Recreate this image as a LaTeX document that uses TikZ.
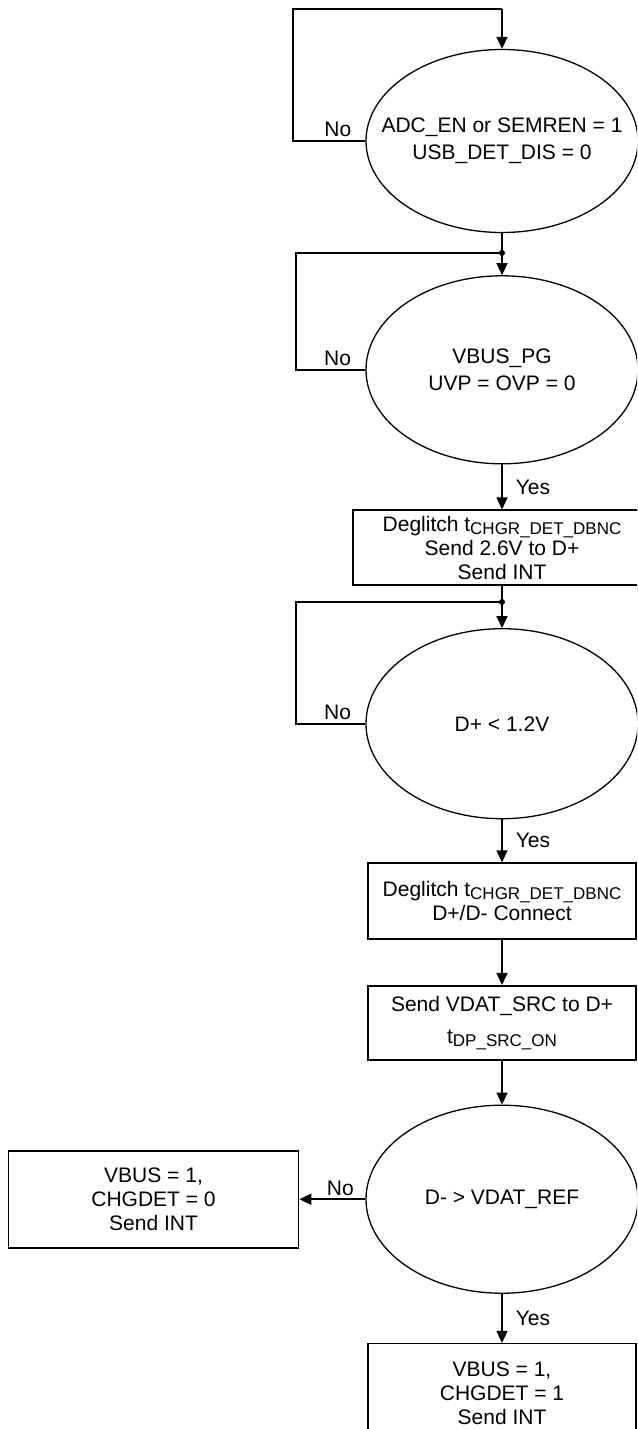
\documentclass[tikz,border=0pt]{standalone}
\usepackage{fontspec}
\setmainfont{Liberation Sans}
\usetikzlibrary{positioning, shapes.geometric, arrows.meta}
\newcommand{\tsub}[1]{\raisebox{-3pt}{\fontsize{17}{17}\selectfont #1}}
\tikzset{
  wire/.style={line width=1.6pt},
  flow/.style={line width=1.6pt, -{Triangle[length=12pt,width=11pt]}},
  dec/.style={ellipse, draw, line width=1.3pt, minimum width=272pt, minimum height=188pt, inner sep=0pt},
  dtxt/.style={align=center, inner sep=0pt, font={\fontsize{21}{27}\selectfont}},
  stepbox/.style={rectangle, draw, line width=1.6pt, align=center, inner sep=0pt, minimum width=268pt, font={\fontsize{21}{24}\selectfont}},
  lbl/.style={font={\fontsize{21}{24}\selectfont}, inner sep=3pt}
}
\begin{document}
\begin{tikzpicture}[x=1pt, y=-1pt]
  \useasboundingbox (0,0) rectangle (637,1429);
  \clip (0,0) rectangle (637,1429);
  % decisions and steps
  \node[dec, minimum height=183pt, label={[dtxt]center:{ADC\_EN or SEMREN = 1\\USB\_DET\_DIS = 0}}] (d1) at (502,141) {};
  \node[dec, below=42pt of d1, label={[dtxt]center:{VBUS\_PG\\UVP = OVP = 0}}] (d2) {};
  \node[stepbox, below=45pt of d2, minimum width=298pt, minimum height=75pt] (b1) {Deglitch t\tsub{CHGR\_DET\_DBNC}\\Send 2.6V to D+\\Send INT};
  \node[dec, below=42pt of b1, minimum height=190pt, label={[dtxt]center:{D+ < 1.2V}}] (d3) {};
  \node[stepbox, below=43pt of d3, minimum height=76pt] (b2) {Deglitch t\tsub{CHGR\_DET\_DBNC}\\D+/D- Connect};
  \node[stepbox, below=45pt of b2, minimum height=74pt] (b3) {Send VDAT\_SRC to D+\\[8pt]t\tsub{DP\_SRC\_ON}};
  \node[dec, below=44pt of b3, label={[dtxt]center:{D- > VDAT\_REF}}] (d4) {};
  \node[stepbox, below=49pt of d4, minimum height=100pt] (b4) {VBUS = 1,\\CHGDET = 1\\Send INT};
  \node[stepbox, left=66pt of d4, minimum width=290pt, minimum height=97pt] (side) {VBUS = 1,\\CHGDET = 0\\Send INT};
  % loop corners and joints
  \coordinate (top) at (502,9);
  \coordinate (loop1) at (293,9);
  \coordinate (j1) at (502,253);
  \coordinate (loop2) at (296,253);
  \coordinate (j2) at (502,602);
  \coordinate (loop3) at (296,602);
  % connectors
  \draw[wire] (d1.west) -- node[lbl, above, pos=0.38] {No} (d1.west -| loop1) -- (loop1) -- (top);
  \draw[flow] (top) -- (d1.north);
  \draw[wire] (d1.south) -- (j1);
  \draw[flow] (j1) -- (d2.north);
  \draw[wire] (d2.west) -- node[lbl, above, pos=0.4] {No} (d2.west -| loop2) -- (loop2) -- (j1);
  \fill (j1) circle (3pt);
  \draw[flow] (d2.south) -- node[lbl, right=10pt] {Yes} (b1.north);
  \draw[wire] (b1.south) -- (j2);
  \draw[flow] (j2) -- (d3.north);
  \draw[wire] (d3.west) -- node[lbl, above, pos=0.4] {No} (d3.west -| loop3) -- (loop3) -- (j2);
  \fill (j2) circle (3pt);
  \draw[flow] (d3.south) -- node[lbl, right=10pt] {Yes} (b2.north);
  \draw[flow] (b2.south) -- (b3.north);
  \draw[flow] (b3.south) -- (d4.north);
  \draw[flow] (d4.west) -- node[lbl, above, pos=0.38] {No} (side.east);
  \draw[flow] (d4.south) -- node[lbl, right=10pt] {Yes} (b4.north);
\end{tikzpicture}
\end{document}
